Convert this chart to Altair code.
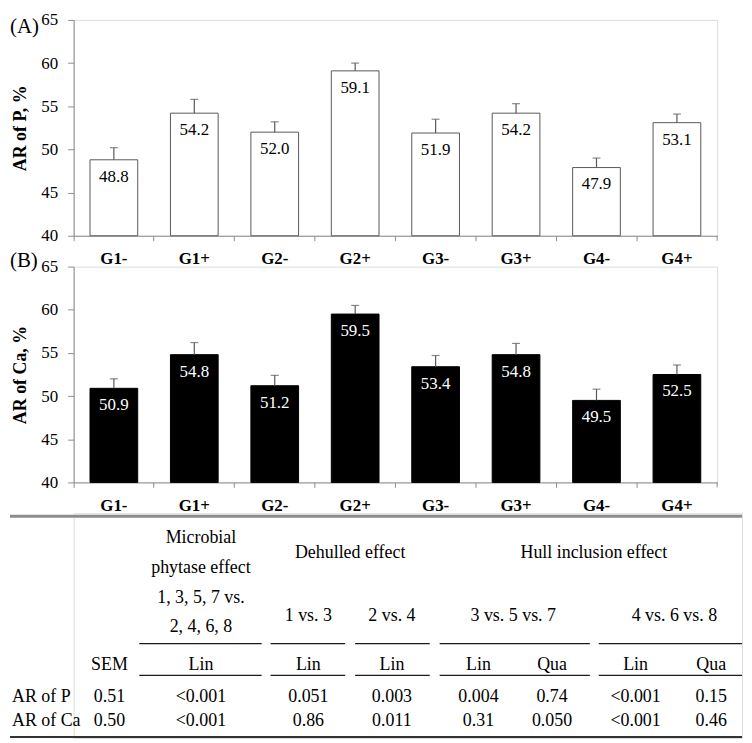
import altair as alt
import pandas as pd

SERIF = "Liberation Serif"
GRAY = "#8c8c8c"
DARK = "#595959"

# ---------------- data ----------------
groups = ["G1-", "G1+", "G2-", "G2+", "G3-", "G3+", "G4-", "G4+"]
ar_p = [48.8, 54.2, 52.0, 59.1, 51.9, 54.2, 47.9, 53.1]
ar_p_sem = [1.4, 1.6, 1.2, 0.9, 1.6, 1.1, 1.1, 1.0]
ar_ca = [50.9, 54.8, 51.2, 59.5, 53.4, 54.8, 49.5, 52.5]
ar_ca_sem = [1.1, 1.4, 1.2, 1.0, 1.3, 1.3, 1.3, 1.1]
y_ticks = [40, 45, 50, 55, 60, 65]

row_labels = ["AR of P", "AR of Ca"]
sem_values = ["0.51", "0.50"]
phytase_lin = ["<0.001", "<0.001"]
dehull_1v3_lin = ["0.051", "0.86"]
dehull_2v4_lin = ["0.003", "0.011"]
hull_357_lin = ["0.004", "0.31"]
hull_357_qua = ["0.74", "0.050"]
hull_468_lin = ["<0.001", "<0.001"]
hull_468_qua = ["0.15", "0.46"]
sub_headers = ["SEM", "Lin", "Lin", "Lin", "Lin", "Qua", "Lin", "Qua"]
contrast_labels = ["1 vs. 3", "2 vs. 4", "3 vs. 5 vs. 7", "4 vs. 6 vs. 8"]
phytase_header = ["Microbial", "phytase effect", "1, 3, 5, 7 vs.", "2, 4, 6, 8"]
group_headers = ["Dehulled effect", "Hull inclusion effect"]

# ---------------- layout (table, reference pixels) ----------------
col_x = [108, 200, 308, 392, 479, 553, 637, 713]
label_x = 10
phytase_y = [537, 567, 597, 626]
group_hdr_x = [350, 595]
group_hdr_y = 552
contrast_x = [308, 392, 514, 676]
contrast_y = 615
sub_hdr_y = 665
row_y = [697, 721]
seg_x = [(138, 261), (270, 345), (355, 430), (440, 591), (600, 744)]
seg_y = [646, 678]

PLOT_W = 647
PLOT_H = 217
TABLE_W = 672
TABLE_H = 226
TABLE_TOP = 515


def panel(values, sems, fill, stroke, text_color, ytitle, tag):
    df = pd.DataFrame({
        "group": groups,
        "value": values,
        "top": [v + s for v, s in zip(values, sems)],
        "base": [40] * len(groups),
    })
    x = alt.X(
        "group:N", sort=groups,
        scale=alt.Scale(paddingInner=0, paddingOuter=0),
        axis=alt.Axis(title=None, labelFont=SERIF, labelFontSize=17,
                      labelFontWeight="bold", labelColor="black", labelAngle=0,
                      labelPadding=10, tickSize=5, tickColor=GRAY,
                      domainColor=GRAY, bandPosition=0, grid=False),
    )
    yscale = alt.Scale(domain=[40, 65], nice=False, zero=False)
    y = alt.Y(
        "value:Q", scale=yscale,
        axis=alt.Axis(values=y_ticks, title=ytitle, titleFont=SERIF,
                      titleFontSize=18, titleFontWeight="bold",
                      titleColor="black", titlePadding=11, labelFont=SERIF,
                      labelFontSize=17, labelColor="black", labelPadding=10,
                      tickSize=6, tickColor=GRAY, domainColor=GRAY, grid=False),
    )
    base = alt.Chart(df)
    bars = base.mark_bar(width={"band": 0.593}, fill=fill, stroke=stroke,
                         strokeWidth=1).encode(x=x, y=y, y2="base:Q")
    err = base.mark_rule(color=DARK, strokeWidth=1.2).encode(
        x=x, y=alt.Y("value:Q", scale=yscale), y2="top:Q")
    cap = base.mark_tick(color=DARK, size=8, thickness=1.2).encode(
        x=x, y=alt.Y("top:Q", scale=yscale))
    labels = base.mark_text(dy=17, baseline="middle", font=SERIF, fontSize=17,
                            color=text_color).encode(
        x=x, y=alt.Y("value:Q", scale=yscale),
        text=alt.Text("value:Q", format=".1f"))
    end_tick = alt.Chart(pd.DataFrame({"t": [0]})).mark_rule(
        color=GRAY, strokeWidth=1).encode(
        x=alt.value(PLOT_W), y=alt.value(PLOT_H), y2=alt.value(PLOT_H + 5))
    tag_layer = alt.Chart(pd.DataFrame({"t": [tag]})).mark_text(
        align="left", baseline="middle", font=SERIF, fontSize=21,
        color="black").encode(text="t:N", x=alt.value(-64),
                              y=alt.value(7 if tag == "(A)" else -6))
    return alt.layer(bars, err, cap, labels, end_tick, tag_layer).properties(
        width=PLOT_W, height=PLOT_H)


chart_a = panel(ar_p, ar_p_sem, "white", DARK, "black", "AR of P, %", "(A)")
chart_b = panel(ar_ca, ar_ca_sem, "black", "black", "white", "AR of Ca, %", "(B)")

# ---------------- table ----------------
cells_c = []
for t, yy in zip(phytase_header, phytase_y):
    cells_c.append({"text": t, "x": col_x[1], "y": yy})
for t, xx in zip(group_headers, group_hdr_x):
    cells_c.append({"text": t, "x": xx, "y": group_hdr_y})
for t, xx in zip(contrast_labels, contrast_x):
    cells_c.append({"text": t, "x": xx, "y": contrast_y})
for t, xx in zip(sub_headers, col_x):
    cells_c.append({"text": t, "x": xx, "y": sub_hdr_y})
columns = [sem_values, phytase_lin, dehull_1v3_lin, dehull_2v4_lin,
           hull_357_lin, hull_357_qua, hull_468_lin, hull_468_qua]
for ci, col in enumerate(columns):
    for ri, v in enumerate(col):
        cells_c.append({"text": v, "x": col_x[ci], "y": row_y[ri]})
cells_l = [{"text": t, "x": label_x, "y": yy} for t, yy in zip(row_labels, row_y)]

rules = [{"x": 8, "x2": 744, "y": 518, "c": "#8c8c8c", "w": 3},
         {"x": 8, "x2": 744, "y": 740, "c": "#333333", "w": 2}]
for yy in seg_y:
    for a, b in seg_x:
        rules.append({"x": a, "x2": b, "y": yy, "c": "#1a1a1a", "w": 1.3})

tx = alt.Scale(domain=[72, 72 + TABLE_W])
ty = alt.Scale(domain=[TABLE_TOP, TABLE_TOP + TABLE_H], reverse=True)

t_text_c = alt.Chart(pd.DataFrame(cells_c)).mark_text(
    align="center", baseline="middle", font=SERIF, fontSize=18, dy=3,
    color="black").encode(
    x=alt.X("x:Q", scale=tx, axis=None),
    y=alt.Y("y:Q", scale=ty, axis=None), text="text:N")
t_text_l = alt.Chart(pd.DataFrame(cells_l)).mark_text(
    align="left", baseline="middle", font=SERIF, fontSize=18, dy=3,
    color="black").encode(
    x=alt.X("x:Q", scale=tx, axis=None),
    y=alt.Y("y:Q", scale=ty, axis=None), text="text:N")
t_rules = alt.Chart(pd.DataFrame(rules)).mark_rule().encode(
    x=alt.X("x:Q", scale=tx, axis=None), x2="x2:Q",
    y=alt.Y("y:Q", scale=ty, axis=None),
    color=alt.Color("c:N", scale=None),
    strokeWidth=alt.StrokeWidth("w:Q", scale=None))
table = alt.layer(t_rules, t_text_c, t_text_l).properties(
    width=TABLE_W, height=TABLE_H)

chart = alt.vconcat(chart_a, chart_b, table, spacing=31, bounds="flush").properties(
    padding={"left": 0, "top": 0, "right": 0, "bottom": 0}
).configure_view(stroke=None).configure(font=SERIF)

chart.save("out.html", embed_options={"renderer": "svg", "actions": False})
